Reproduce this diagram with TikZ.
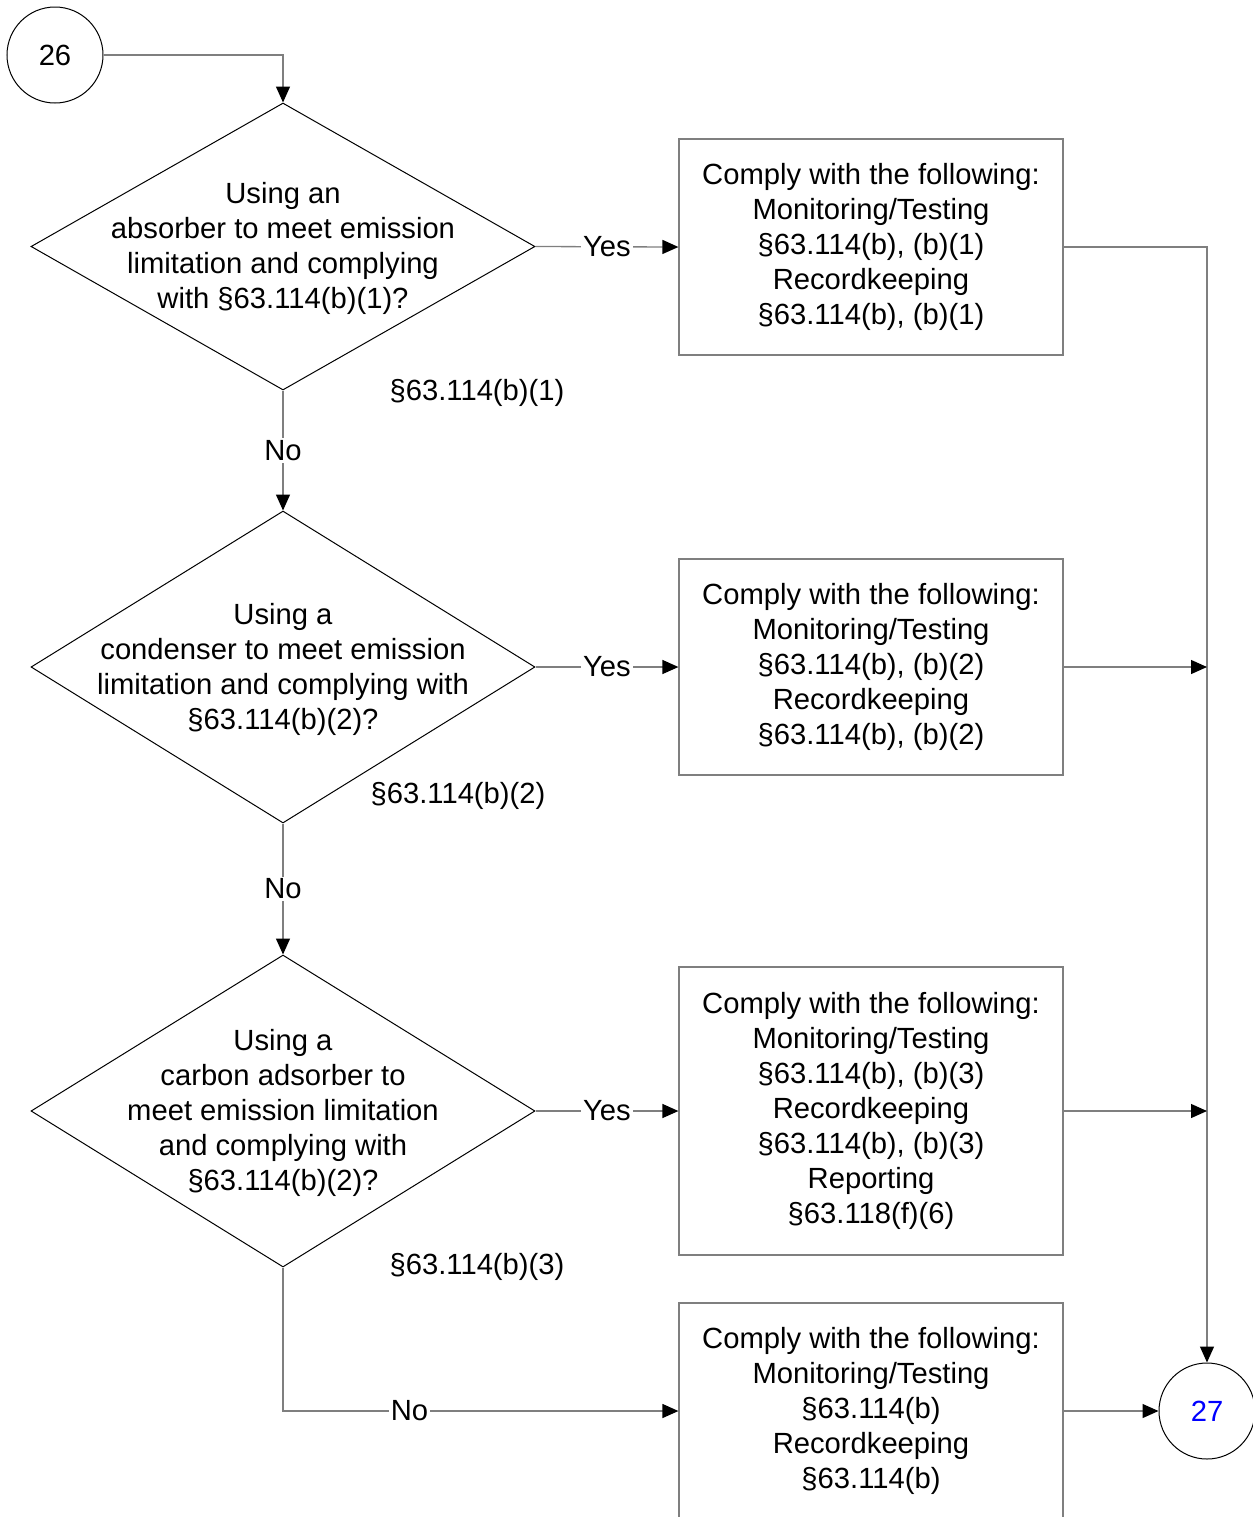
\documentclass[tikz,border=0pt]{standalone}
\usepackage{fontspec}
\setmainfont{Liberation Sans}
\usetikzlibrary{shapes.geometric,arrows.meta}

\begin{document}
\begin{tikzpicture}[x=0.5pt,y=-0.5pt,
  font=\fontsize{14.6}{17.5}\selectfont,
  decision/.style={diamond, draw=black, line width=0.5pt, inner sep=0pt,
    minimum width=252pt, minimum height=156pt},
  dtext/.style={align=center, inner sep=0pt},
  actbox/.style={rectangle, draw=lineGray, line width=0.6pt, align=center,
    minimum width=192pt, minimum height=108pt},
  connector/.style={circle, draw=black, line width=0.5pt, minimum size=48pt, inner sep=0pt},
  flow/.style={draw=lineGray, line width=0.65pt, -{Triangle[length=8pt,width=7pt,color=black,fill=black]}},
  lbl/.style={fill=white, inner sep=1pt}]

% Colori
\definecolor{lineGray}{HTML}{7F7F7F}
\definecolor{linkBlue}{HTML}{0000FF}

\useasboundingbox (0,0) rectangle (1253,1517);

% Connettori di pagina
\node[connector] (c26) at (55,55) {26};
\node[connector, text=linkBlue] (c27) at (1207,1411) {27};

% Decisioni
\node[decision, minimum height=143.5pt] (d1) at (283,246.5) {};
\node[dtext] (t1) at (283,248.5) {Using an\\absorber to meet emission\\limitation and complying\\with \S63.114(b)(1)?};

\node[decision] (d2) at (283,667) {};
\node[dtext] (t2) at (283,669) {Using a\\condenser to meet emission\\limitation and complying with\\\S63.114(b)(2)?};

\node[decision] (d3) at (283,1111) {};
\node[dtext] (t3) at (283,1113) {Using a\\carbon adsorber to\\meet emission limitation\\and complying with\\\S63.114(b)(2)?};

% Riferimenti sotto le decisioni
\node (r1) at (477,393) {\S63.114(b)(1)};
\node (r2) at (458,796) {\S63.114(b)(2)};
\node (r3) at (477,1267) {\S63.114(b)(3)};

% Azioni
\node[actbox] (b1) at (871,247) {Comply with the following:\\Monitoring/Testing\\\S63.114(b), (b)(1)\\Recordkeeping\\\S63.114(b), (b)(1)};
\node[actbox] (b2) at (871,667) {Comply with the following:\\Monitoring/Testing\\\S63.114(b), (b)(2)\\Recordkeeping\\\S63.114(b), (b)(2)};
\node[actbox, minimum height=144pt] (b3) at (871,1111) {Comply with the following:\\Monitoring/Testing\\\S63.114(b), (b)(3)\\Recordkeeping\\\S63.114(b), (b)(3)\\Reporting\\\S63.118(f)(6)};
\node[actbox] (b4) at (871,1411) {Comply with the following:\\Monitoring/Testing\\\S63.114(b)\\Recordkeeping\\\S63.114(b)};

% Punti sulla linea di ritorno
\coordinate (j2) at (c27.north |- b2.east);
\coordinate (j3) at (c27.north |- b3.east);

% Frecce
\draw[flow] (c26.east) -| (d1.north);
\draw[flow] (d1.east) -- node[lbl] {Yes} (b1.west);
\draw[flow] (d1.south) -- node[lbl] {No} (d2.north);
\draw[flow] (d2.east) -- node[lbl] {Yes} (b2.west);
\draw[flow] (d2.south) -- node[lbl] {No} (d3.north);
\draw[flow] (d3.east) -- node[lbl] {Yes} (b3.west);
\draw[flow] (d3.south) |- node[lbl, pos=0.66] {No} (b4.west);

\draw[flow] (b1.east) -| (c27.north);
\draw[flow] (b2.east) -- (j2);
\draw[flow] (b3.east) -- (j3);
\draw[flow] (b4.east) -- (c27.west);

\end{tikzpicture}
\end{document}
